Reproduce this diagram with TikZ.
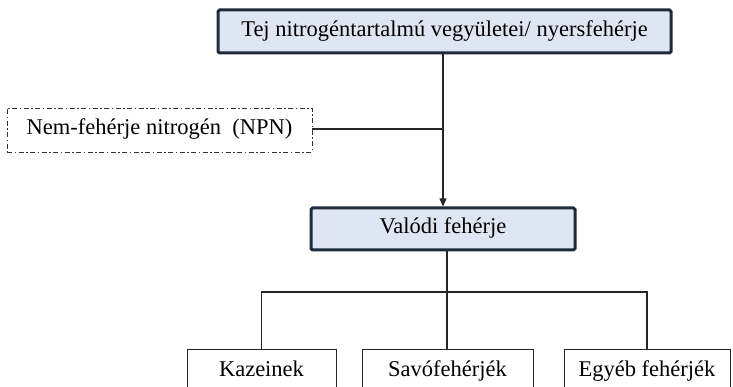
\documentclass[tikz,border=0pt]{standalone}
\usepackage{fontspec}
\setmainfont{Liberation Serif}
\usetikzlibrary{arrows.meta}
\definecolor{boxfill}{HTML}{DFE6F3}
\definecolor{boxedge}{HTML}{1F2A3C}
\tikzset{
  txt/.style={font=\fontsize{22.5}{26}\selectfont, text height=15pt, text depth=5pt},
  mainbox/.style={txt, draw=boxedge, line width=3pt, fill=boxfill, rounded corners=1.5pt, inner sep=0pt},
  npnbox/.style={txt, draw=black!80, line width=0.9pt, dash pattern=on 5pt off 2.5pt on 1.5pt off 2.5pt, inner sep=0pt},
  leafbox/.style={txt, draw=black!85, line width=1pt, inner sep=0pt},
  conn/.style={draw=black!85, line width=1.1pt}
}
\begin{document}
\begin{tikzpicture}[x=1pt,y=-1pt]
\useasboundingbox (0,0) rectangle (733,387);
\clip (0,0) rectangle (733,387);
\node[mainbox, minimum width=453pt, minimum height=43pt] (top) at (444.5,31.5) {Tej nitrogéntartalmú vegyületei/ nyersfehérje};
\node[npnbox, minimum width=305pt, minimum height=44pt] (npn) at (159.5,130) {Nem-fehérje nitrogén\ \ (NPN)};
\node[mainbox, minimum width=264pt, minimum height=42pt] (val) at (443,229) {Valódi fehérje};
\node[leafbox, minimum width=149pt, minimum height=44pt] (kaz) at (261.5,371) {Kazeinek};
\node[leafbox, minimum width=171pt, minimum height=44pt] (sav) at (447.5,371) {Savófehérjék};
\node[leafbox, minimum width=166pt, minimum height=44pt] (egy) at (647,371) {Egyéb fehérjék};
\coordinate (j) at (443,129);
\coordinate (h) at (447,292);
\draw[conn, -{Triangle[length=8pt,width=7pt]}] (top.south -| j) -- (val.north -| j);
\draw[conn] (npn.east |- j) -- (j);
\draw[conn] (val.south -| h) -- (sav.north -| h);
\draw[conn] (kaz.north) -- (kaz.north |- h) -- (egy.north |- h) -- (egy.north);
\end{tikzpicture}
\end{document}
